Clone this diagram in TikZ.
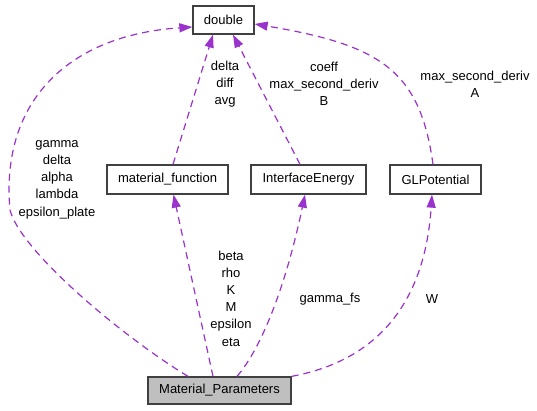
\documentclass[tikz,border=0pt]{standalone}
\usepackage{fontspec}
\setmainfont{Liberation Sans}
\usetikzlibrary{arrows.meta}
\definecolor{edgepurple}{HTML}{9A32CD}
\definecolor{boxline}{HTML}{404040}
\definecolor{boxgray}{HTML}{BFBFBF}
\begin{document}
\begin{tikzpicture}[x=1pt,y=-1pt,
  cls/.style={draw=boxline,line width=1.3pt,fill=white,inner sep=0pt,
    font=\fontsize{13}{15}\selectfont,minimum height=29pt},
  edge/.style={draw=edgepurple,line width=1.2pt,dash pattern=on 7pt off 5pt,
    -{Triangle[length=13pt,width=9pt,fill=edgepurple]}},
  lbl/.style={align=center,inner sep=0pt,font=\fontsize{13}{17.2}\selectfont}]
\useasboundingbox (0,0) rectangle (537,411);
\fill[white] (0,0) rectangle (537,411);
\node[cls,minimum width=61pt,minimum height=28pt] (double) at (223.5,20) {double};
\node[cls,minimum width=121pt] (mf) at (167.5,179.5) {material\_function};
\node[cls,minimum width=115pt] (ie) at (308.5,179.5) {InterfaceEnergy};
\node[cls,minimum width=91pt] (glp) at (435.5,179.5) {GLPotential};
\node[cls,fill=boxgray,minimum width=143pt,minimum height=27pt] (mp) at (219.5,390.5) {Material\_Parameters};
% edges
\draw[edge] ([xshift=-31.5pt]mp.north) .. controls (120,335) and (20,250) .. (10,210)
  .. controls (0,100) and (70,35) .. ([yshift=-7pt]double.west);
\draw[edge] ([xshift=-6.5pt]mp.north) -- ([xshift=6pt]mf.south);
\draw[edge] ([xshift=5.5pt]mf.north) -- ([xshift=-10.5pt]double.south);
\draw[edge] ([xshift=-8.5pt]ie.north) -- ([xshift=9.5pt]double.south);
\draw[edge] ([xshift=-2.5pt]glp.north) .. controls (420,70) and (380,45) .. ([yshift=-4pt]double.east);
\draw[edge] ([xshift=17.5pt]mp.north) .. controls (260,350) and (285,290) .. ([xshift=-3.5pt]ie.south);
\draw[edge] (mp.north east) .. controls (380,360) and (425,300) .. ([xshift=-3.5pt]glp.south);
% labels
\node[lbl] (l1) at (57,179.5) {gamma\\delta\\alpha\\lambda\\epsilon\_plate};
\node[lbl] (l2) at (225,84) {delta\\diff\\avg};
\node[lbl] (l3) at (324,84) {coeff\\max\_second\_deriv\\B};
\node[lbl] (l4) at (475,84.5) {max\_second\_deriv\\A};
\node[lbl] (l5) at (231,298.5) {beta\\rho\\K\\M\\epsilon\\eta};
\node[lbl] (l6) at (330,299) {gamma\_fs};
\node[lbl] (l7) at (432,299) {W};
\end{tikzpicture}
\end{document}
